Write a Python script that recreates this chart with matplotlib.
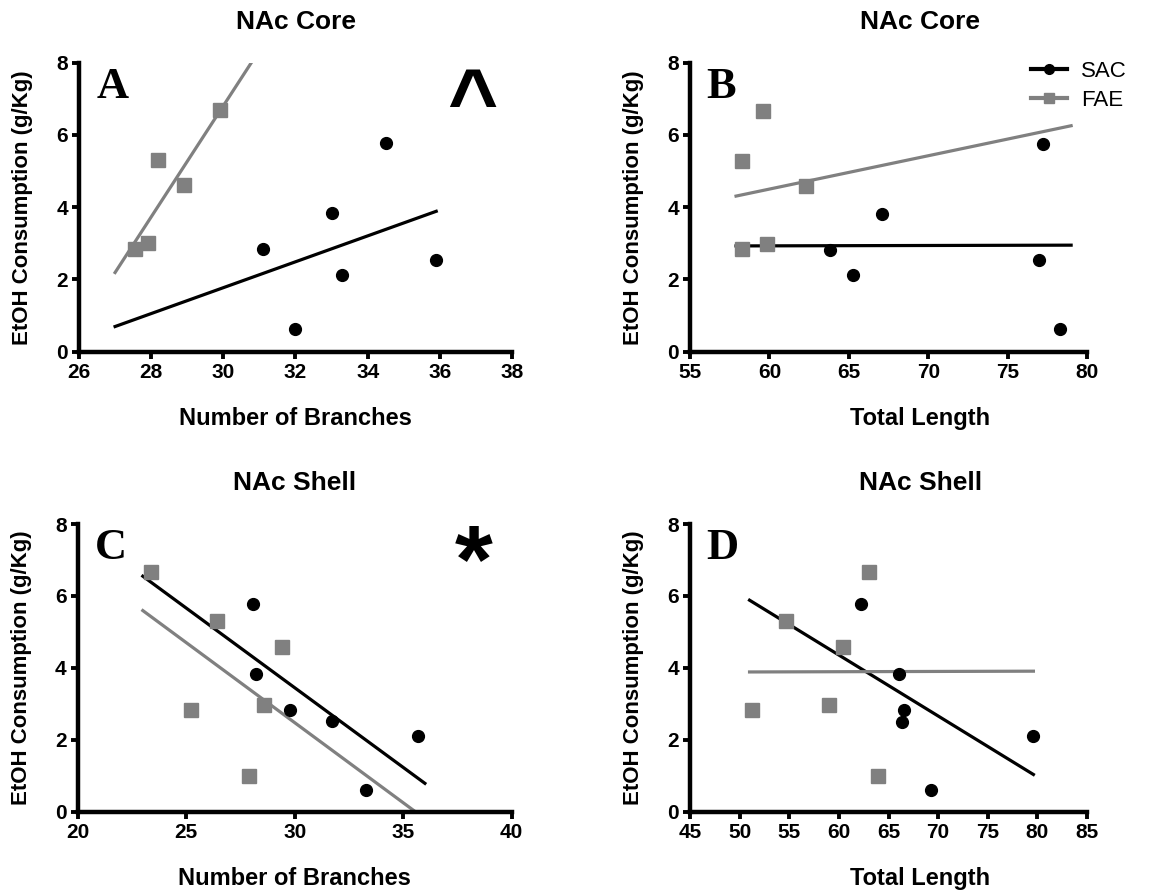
import numpy as np
import matplotlib
matplotlib.use('Agg')
import matplotlib.pyplot as plt
from matplotlib.lines import Line2D

plt.rcParams['font.family'] = ['Liberation Sans', 'DejaVu Sans']

# panel A: NAc core, number of branches  (y = EtOH consumption, g/Kg)
core_branch_sac_x = [31.1, 32.0, 33.0, 33.3, 34.5, 35.9]
core_branch_sac_y = [2.84, 0.63, 3.83, 2.12, 5.77, 2.54]
core_branch_fae_x = [27.55, 27.9, 28.2, 28.9, 29.9]
core_branch_fae_y = [2.83, 3.0, 5.3, 4.61, 6.68]

# panel B: NAc core, total length
core_len_sac_x = [63.8, 65.25, 67.1, 77.0, 77.2, 78.3]
core_len_sac_y = [2.82, 2.11, 3.82, 2.53, 5.75, 0.62]
core_len_fae_x = [58.25, 58.3, 59.6, 59.85, 62.3]
core_len_fae_y = [5.29, 2.83, 6.66, 2.97, 4.6]

# panel C: NAc shell, number of branches
shell_branch_sac_x = [28.1, 28.2, 29.8, 31.7, 33.3, 35.7]
shell_branch_sac_y = [5.77, 3.83, 2.83, 2.53, 0.6, 2.11]
shell_branch_fae_x = [23.4, 25.2, 26.4, 27.9, 28.6, 29.4]
shell_branch_fae_y = [6.67, 2.83, 5.31, 0.99, 2.97, 4.59]

# panel D: NAc shell, total length
shell_len_sac_x = [62.2, 66.1, 66.6, 66.4, 69.3, 79.6]
shell_len_sac_y = [5.77, 3.83, 2.83, 2.5, 0.6, 2.1]
shell_len_fae_x = [51.2, 54.7, 59.0, 60.4, 63.05, 63.95]
shell_len_fae_y = [2.83, 5.3, 2.97, 4.59, 6.67, 0.99]

# x span of the regression lines in each panel
fit_span = {'A': [27.0, 35.9], 'B': [57.9, 79.0], 'C': [23.0, 36.0], 'D': [51.0, 79.6]}

gray = '#808080'
W, H = 1155, 892

fig = plt.figure(figsize=(W / 100, H / 100), dpi=100)


def make_axes(x0, x1, y_top, y_bot):
    return fig.add_axes([x0 / W, 1 - y_bot / H, (x1 - x0) / W, (y_bot - y_top) / H])


def panel(ax, sx, sy, fx, fy, span, xlim, xticks, title, xlabel, letter, shift):
    xs = np.array(span)
    for x, y, c, m, ms in [(sx, sy, 'black', 'o', 8.5), (fx, fy, gray, 's', 9.5)]:
        k, b = np.polyfit(x, y, 1)
        ax.plot(xs, k * xs + b, color=c, lw=2.3, zorder=2)
        ax.plot(x, y, ls='none', marker=m, ms=ms, color=c, mec=c, zorder=3)

    ax.set_xlim(xlim)
    ax.set_ylim(0, 8)
    ax.set_xticks(xticks)
    ax.set_yticks([0, 2, 4, 6, 8])
    for s in ['top', 'right']:
        ax.spines[s].set_visible(False)
    for s in ['left', 'bottom']:
        ax.spines[s].set_linewidth(3.2)
    ax.tick_params(direction='out', length=5, width=2.8, labelsize=15, pad=3)
    for t in ax.get_xticklabels() + ax.get_yticklabels():
        t.set_fontweight('bold')

    w_px = ax.get_position().width * W
    h_px = ax.get_position().height * H
    ax.set_ylabel('EtOH Consumption (g/Kg)', fontsize=16, fontweight='bold')
    ax.yaxis.set_label_coords(-46 / w_px, 0.5)
    ax.set_xlabel(xlabel, fontsize=17, fontweight='bold')
    ax.xaxis.set_label_coords(0.5 + shift, -55 / h_px)
    ax.text(0.5 + shift, 1 + 34 / h_px, title, transform=ax.transAxes,
            ha='center', va='baseline', fontsize=19, fontweight='bold')
    ax.text(0.04, 0.878, letter, transform=ax.transAxes, ha='left', va='baseline',
            fontsize=32, fontweight='bold', family=['Liberation Serif', 'DejaVu Serif'])


axA = make_axes(79, 512, 62.7, 351.7)
panel(axA, core_branch_sac_x, core_branch_sac_y, core_branch_fae_x, core_branch_fae_y,
      fit_span['A'], (26, 38), range(26, 39, 2), 'NAc Core', 'Number of Branches', 'A', 0)
axA.text(0.908, 0.775, '^', transform=axA.transAxes, ha='center', va='baseline',
         fontsize=62, fontweight='bold')

axB = make_axes(690, 1087, 62.7, 351.7)
panel(axB, core_len_sac_x, core_len_sac_y, core_len_fae_x, core_len_fae_y,
      fit_span['B'], (55, 80), range(55, 81, 5), 'NAc Core', 'Total Length', 'B', 0.08)
handles = [Line2D([], [], color='black', lw=3, marker='o', ms=7),
           Line2D([], [], color=gray, lw=3, marker='s', ms=7.5)]
axB.legend(handles, ['SAC', 'FAE'], loc='upper left', bbox_to_anchor=(0.858, 1.005),
           frameon=False, fontsize=16, handlelength=1.65, handletextpad=0.6,
           labelspacing=0.35, borderpad=0, borderaxespad=0)

axC = make_axes(77.7, 511.7, 524, 811.7)
panel(axC, shell_branch_sac_x, shell_branch_sac_y, shell_branch_fae_x, shell_branch_fae_y,
      fit_span['C'], (20, 40), range(20, 41, 5), 'NAc Shell', 'Number of Branches', 'C', 0)
axC.text(0.913, 0.765, '*', transform=axC.transAxes, ha='center', va='baseline',
         fontsize=70, fontweight='bold')

axD = make_axes(690, 1087, 524, 811.7)
panel(axD, shell_len_sac_x, shell_len_sac_y, shell_len_fae_x, shell_len_fae_y,
      fit_span['D'], (45, 85), range(45, 86, 5), 'NAc Shell', 'Total Length', 'D', 0.08)

fig.savefig('out.png', dpi=100)
